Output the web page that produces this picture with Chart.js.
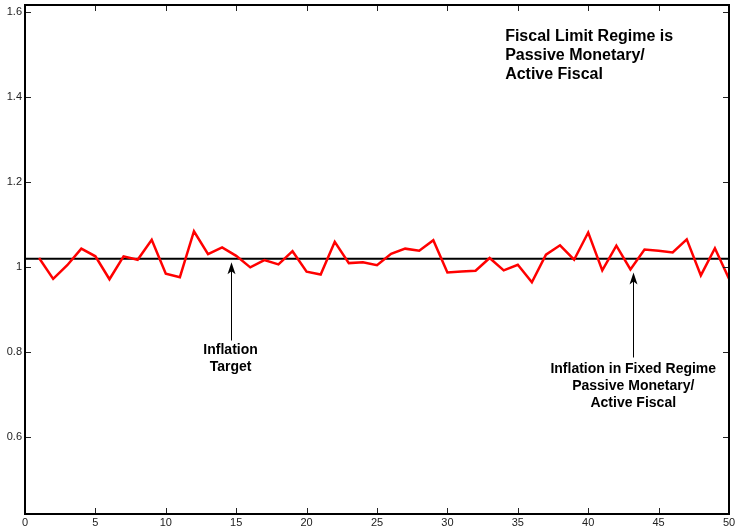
<!DOCTYPE html>
<html><head><meta charset="utf-8">
<script src="https://cdn.jsdelivr.net/npm/chart.js@4/dist/chart.umd.min.js"></script>
<style>html,body{margin:0;padding:0;background:#fff}canvas{display:block}</style>
</head><body>
<canvas id="c" width="735" height="527"></canvas>
<script>
// ---- data ----
const periods = [1,2,3,4,5,6,7,8,9,10,11,12,13,14,15,16,17,18,19,20,21,22,23,24,25,26,27,28,29,30,31,32,33,34,35,36,37,38,39,40,41,42,43,44,45,46,47,48,49,50];
const inflationFixed = [1.022,0.973,1.005,1.044,1.026,0.972,1.026,1.018,1.065,0.985,0.977,1.085,1.031,1.047,1.027,1.000,1.017,1.007,1.038,0.990,0.983,1.060,1.010,1.012,1.005,1.032,1.044,1.039,1.064,0.988,0.990,0.992,1.022,0.993,1.006,0.965,1.030,1.052,1.018,1.082,0.993,1.051,0.995,1.042,1.039,1.035,1.066,0.981,1.045,0.973];
const targetX = [0, 50];
const targetLevel = 1.02;
const xTicks = [0,5,10,15,20,25,30,35,40,45,50];
const yTicks = [0.6,0.8,1,1.2,1.4,1.6];
const xRange = [0, 50];
const yRange = [0.42, 1.617];
const boxText = ["Fiscal Limit Regime is", "Passive Monetary/", "Active Fiscal"];
const boxTextAnchor = [34.1, 1.542];
const boxTextStep = 0.0447;
const targetLabel = ["Inflation", "Target"];
const targetArrow = {x: 14.6, tipY: 1.012, tailY: 0.828, textY: 0.805};
const fixedLabel = ["Inflation in Fixed Regime", "Passive Monetary/", "Active Fiscal"];
const fixedArrow = {x: 43.2, tipY: 0.988, tailY: 0.788, textY: 0.760};
const labelStep = 0.040;

const overlay = {
  id: 'overlay',
  afterDraw(chart) {
    const ctx = chart.ctx, a = chart.chartArea;
    const xs = chart.scales.x, ys = chart.scales.y;
    ctx.save();
    ctx.strokeStyle = '#222'; ctx.lineWidth = 1;
    const tl = 6;
    xTicks.forEach(v => {
      const px = Math.round(xs.getPixelForValue(v)) + 0.5;
      ctx.beginPath();
      ctx.moveTo(px, a.bottom); ctx.lineTo(px, a.bottom - tl);
      ctx.moveTo(px, a.top); ctx.lineTo(px, a.top + tl);
      ctx.stroke();
    });
    yTicks.forEach(v => {
      const py = Math.round(ys.getPixelForValue(v)) + 0.5;
      ctx.beginPath();
      ctx.moveTo(a.left, py); ctx.lineTo(a.left + tl, py);
      ctx.moveTo(a.right, py); ctx.lineTo(a.right - tl, py);
      ctx.stroke();
    });
    ctx.strokeStyle = '#000'; ctx.lineWidth = 2;
    ctx.strokeRect(a.left, a.top, a.right - a.left, a.bottom - a.top);
    function arrow(ax) {
      const px = Math.round(xs.getPixelForValue(ax.x)) + 0.5;
      const tip = ys.getPixelForValue(ax.tipY);
      const tail = ys.getPixelForValue(ax.tailY);
      ctx.strokeStyle = '#000'; ctx.lineWidth = 1;
      ctx.beginPath(); ctx.moveTo(px, tail); ctx.lineTo(px, tip + 6); ctx.stroke();
      ctx.fillStyle = '#000';
      ctx.beginPath();
      ctx.moveTo(px, tip);
      ctx.lineTo(px - 4, tip + 12);
      ctx.lineTo(px, tip + 9);
      ctx.lineTo(px + 4, tip + 12);
      ctx.closePath(); ctx.fill();
    }
    arrow(targetArrow); arrow(fixedArrow);
    ctx.fillStyle = '#000';
    ctx.textBaseline = 'middle';
    ctx.font = 'bold 14px "Liberation Sans", Arial, sans-serif';
    ctx.textAlign = 'center';
    targetLabel.forEach((t, i) => {
      ctx.fillText(t, xs.getPixelForValue(targetArrow.x), ys.getPixelForValue(targetArrow.textY - i * labelStep));
    });
    fixedLabel.forEach((t, i) => {
      ctx.fillText(t, xs.getPixelForValue(fixedArrow.x), ys.getPixelForValue(fixedArrow.textY - i * labelStep));
    });
    ctx.font = 'bold 16px "Liberation Sans", Arial, sans-serif';
    ctx.textAlign = 'left';
    boxText.forEach((t, i) => {
      ctx.fillText(t, xs.getPixelForValue(boxTextAnchor[0]), ys.getPixelForValue(boxTextAnchor[1] - i * boxTextStep));
    });
    ctx.restore();
  }
};

new Chart(document.getElementById('c'), {
  type: 'line',
  data: {
    datasets: [
      {
        label: 'Inflation in Fixed Regime',
        data: periods.map((p, i) => ({x: p, y: inflationFixed[i]})),
        borderColor: '#ff0000', borderWidth: 2.5, pointRadius: 0, tension: 0, fill: false
      },
      {
        label: 'Inflation Target',
        data: targetX.map(x => ({x: x, y: targetLevel})),
        borderColor: '#000000', borderWidth: 2, pointRadius: 0, tension: 0, fill: false
      }
    ]
  },
  options: {
    responsive: false,
    animation: false,
    devicePixelRatio: 1,
    layout: {padding: {top: 5, right: 6, left: 0, bottom: 0}},
    plugins: {legend: {display: false}, tooltip: {enabled: false}, title: {display: false}},
    scales: {
      x: {
        type: 'linear', min: xRange[0], max: xRange[1],
        afterBuildTicks: s => { s.ticks = xTicks.map(v => ({value: v})); },
        afterFit: s => { s.height = 13; s.paddingLeft = 0; s.paddingRight = 0; },
        grid: {display: false, drawTicks: false},
        border: {display: false},
        ticks: {padding: 2, maxRotation: 0, autoSkip: false, color: '#222',
                font: {size: 11, family: '"Liberation Sans", Arial, sans-serif'},
                callback: v => String(v)}
      },
      y: {
        type: 'linear', min: yRange[0], max: yRange[1],
        afterBuildTicks: s => { s.ticks = yTicks.map(v => ({value: v})); },
        afterFit: s => { s.width = 25; s.paddingTop = 0; s.paddingBottom = 0; },
        grid: {display: false, drawTicks: false},
        border: {display: false},
        ticks: {padding: 3, color: '#222',
                font: {size: 11, family: '"Liberation Sans", Arial, sans-serif'},
                callback: v => String(Math.round(v * 10) / 10)}
      }
    }
  },
  plugins: [overlay]
});
</script>
</body></html>
